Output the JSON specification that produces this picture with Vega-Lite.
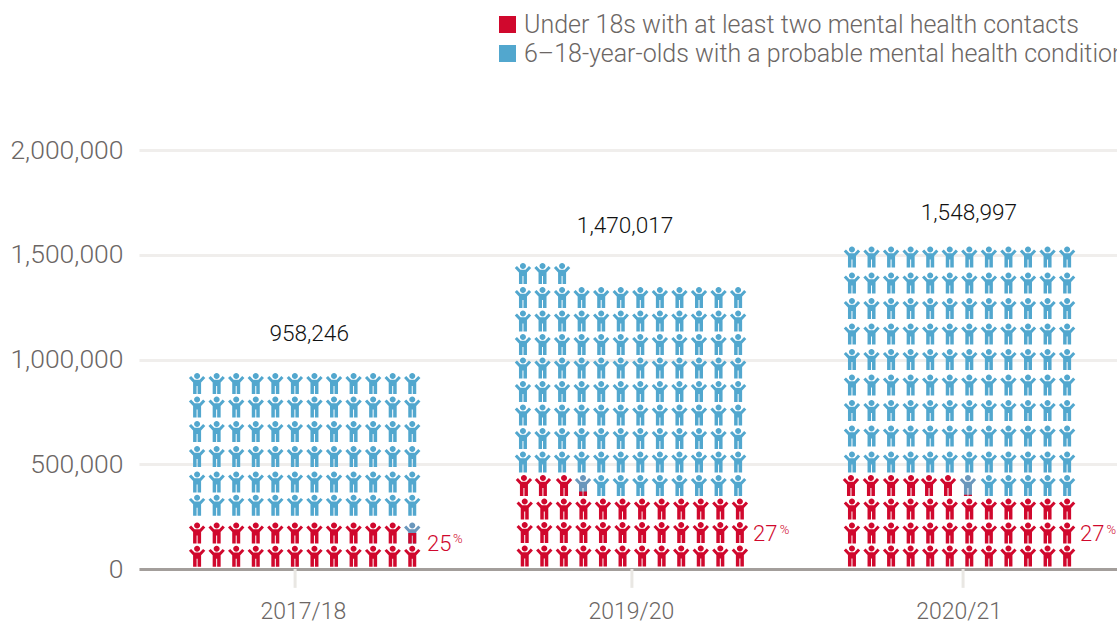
{"$schema":"https://vega.github.io/schema/vega-lite/v6.json","width":978,"height":419,"autosize":{"type":"none"},"padding":{"left":139,"top":150,"right":0,"bottom":53},"background":"white","config":{"view":{"stroke":null},"font":"Roboto"},
"datasets":{"icons":[
{"s":"A","x":2.97,"y":60600},{"s":"A","x":3.97,"y":60600},{"s":"A","x":4.97,"y":60600},{"s":"A","x":5.97,"y":60600},{"s":"A","x":6.97,"y":60600},{"s":"A","x":7.97,"y":60600},{"s":"A","x":8.97,"y":60600},{"s":"A","x":9.97,"y":60600},{"s":"A","x":10.97,"y":60600},{"s":"A","x":11.97,"y":60600},{"s":"A","x":12.97,"y":60600},{"s":"A","x":13.97,"y":60600},
{"s":"A","x":2.97,"y":171800},{"s":"A","x":3.97,"y":171800},{"s":"A","x":4.97,"y":171800},{"s":"A","x":5.97,"y":171800},{"s":"A","x":6.97,"y":171800},{"s":"A","x":7.97,"y":171800},{"s":"A","x":8.97,"y":171800},{"s":"A","x":9.97,"y":171800},{"s":"A","x":10.97,"y":171800},{"s":"A","x":11.97,"y":171800},{"s":"A","x":12.97,"y":171800},{"s":"C","x":13.97,"y":171800},
{"s":"B","x":2.97,"y":304100},{"s":"B","x":3.97,"y":304100},{"s":"B","x":4.97,"y":304100},{"s":"B","x":5.97,"y":304100},{"s":"B","x":6.97,"y":304100},{"s":"B","x":7.97,"y":304100},{"s":"B","x":8.97,"y":304100},{"s":"B","x":9.97,"y":304100},{"s":"B","x":10.97,"y":304100},{"s":"B","x":11.97,"y":304100},{"s":"B","x":12.97,"y":304100},{"s":"B","x":13.97,"y":304100},
{"s":"B","x":2.97,"y":415300},{"s":"B","x":3.97,"y":415300},{"s":"B","x":4.97,"y":415300},{"s":"B","x":5.97,"y":415300},{"s":"B","x":6.97,"y":415300},{"s":"B","x":7.97,"y":415300},{"s":"B","x":8.97,"y":415300},{"s":"B","x":9.97,"y":415300},{"s":"B","x":10.97,"y":415300},{"s":"B","x":11.97,"y":415300},{"s":"B","x":12.97,"y":415300},{"s":"B","x":13.97,"y":415300},
{"s":"B","x":2.97,"y":537000},{"s":"B","x":3.97,"y":537000},{"s":"B","x":4.97,"y":537000},{"s":"B","x":5.97,"y":537000},{"s":"B","x":6.97,"y":537000},{"s":"B","x":7.97,"y":537000},{"s":"B","x":8.97,"y":537000},{"s":"B","x":9.97,"y":537000},{"s":"B","x":10.97,"y":537000},{"s":"B","x":11.97,"y":537000},{"s":"B","x":12.97,"y":537000},{"s":"B","x":13.97,"y":537000},
{"s":"B","x":2.97,"y":656300},{"s":"B","x":3.97,"y":656300},{"s":"B","x":4.97,"y":656300},{"s":"B","x":5.97,"y":656300},{"s":"B","x":6.97,"y":656300},{"s":"B","x":7.97,"y":656300},{"s":"B","x":8.97,"y":656300},{"s":"B","x":9.97,"y":656300},{"s":"B","x":10.97,"y":656300},{"s":"B","x":11.97,"y":656300},{"s":"B","x":12.97,"y":656300},{"s":"B","x":13.97,"y":656300},
{"s":"B","x":2.97,"y":773300},{"s":"B","x":3.97,"y":773300},{"s":"B","x":4.97,"y":773300},{"s":"B","x":5.97,"y":773300},{"s":"B","x":6.97,"y":773300},{"s":"B","x":7.97,"y":773300},{"s":"B","x":8.97,"y":773300},{"s":"B","x":9.97,"y":773300},{"s":"B","x":10.97,"y":773300},{"s":"B","x":11.97,"y":773300},{"s":"B","x":12.97,"y":773300},{"s":"B","x":13.97,"y":773300},
{"s":"B","x":2.97,"y":885400},{"s":"B","x":3.97,"y":885400},{"s":"B","x":4.97,"y":885400},{"s":"B","x":5.97,"y":885400},{"s":"B","x":6.97,"y":885400},{"s":"B","x":7.97,"y":885400},{"s":"B","x":8.97,"y":885400},{"s":"B","x":9.97,"y":885400},{"s":"B","x":10.97,"y":885400},{"s":"B","x":11.97,"y":885400},{"s":"B","x":12.97,"y":885400},{"s":"B","x":13.97,"y":885400},

{"s":"A","x":19.72,"y":62100},{"s":"A","x":20.72,"y":62100},{"s":"A","x":21.72,"y":62100},{"s":"A","x":22.72,"y":62100},{"s":"A","x":23.72,"y":62100},{"s":"A","x":24.72,"y":62100},{"s":"A","x":25.72,"y":62100},{"s":"A","x":26.72,"y":62100},{"s":"A","x":27.72,"y":62100},{"s":"A","x":28.72,"y":62100},{"s":"A","x":29.72,"y":62100},{"s":"A","x":30.72,"y":62100},
{"s":"A","x":19.72,"y":174200},{"s":"A","x":20.72,"y":174200},{"s":"A","x":21.72,"y":174200},{"s":"A","x":22.72,"y":174200},{"s":"A","x":23.72,"y":174200},{"s":"A","x":24.72,"y":174200},{"s":"A","x":25.72,"y":174200},{"s":"A","x":26.72,"y":174200},{"s":"A","x":27.72,"y":174200},{"s":"A","x":28.72,"y":174200},{"s":"A","x":29.72,"y":174200},{"s":"A","x":30.72,"y":174200},
{"s":"A","x":19.72,"y":286400},{"s":"A","x":20.72,"y":286400},{"s":"A","x":21.72,"y":286400},{"s":"A","x":22.72,"y":286400},{"s":"A","x":23.72,"y":286400},{"s":"A","x":24.72,"y":286400},{"s":"A","x":25.72,"y":286400},{"s":"A","x":26.72,"y":286400},{"s":"A","x":27.72,"y":286400},{"s":"A","x":28.72,"y":286400},{"s":"A","x":29.72,"y":286400},{"s":"A","x":30.72,"y":286400},
{"s":"A","x":19.68,"y":398600},{"s":"A","x":20.65,"y":398600},{"s":"A","x":21.73,"y":398600},{"s":"C","x":22.7,"y":398600},{"s":"B","x":23.63,"y":398600},{"s":"B","x":24.63,"y":398600},{"s":"B","x":25.63,"y":398600},{"s":"B","x":26.63,"y":398600},{"s":"B","x":27.63,"y":398600},{"s":"B","x":28.63,"y":398600},{"s":"B","x":29.63,"y":398600},{"s":"B","x":30.63,"y":398600},
{"s":"B","x":19.63,"y":510700},{"s":"B","x":20.63,"y":510700},{"s":"B","x":21.63,"y":510700},{"s":"B","x":22.63,"y":510700},{"s":"B","x":23.63,"y":510700},{"s":"B","x":24.63,"y":510700},{"s":"B","x":25.63,"y":510700},{"s":"B","x":26.63,"y":510700},{"s":"B","x":27.63,"y":510700},{"s":"B","x":28.63,"y":510700},{"s":"B","x":29.63,"y":510700},{"s":"B","x":30.63,"y":510700},
{"s":"B","x":19.63,"y":622900},{"s":"B","x":20.63,"y":622900},{"s":"B","x":21.63,"y":622900},{"s":"B","x":22.63,"y":622900},{"s":"B","x":23.63,"y":622900},{"s":"B","x":24.63,"y":622900},{"s":"B","x":25.63,"y":622900},{"s":"B","x":26.63,"y":622900},{"s":"B","x":27.63,"y":622900},{"s":"B","x":28.63,"y":622900},{"s":"B","x":29.63,"y":622900},{"s":"B","x":30.63,"y":622900},
{"s":"B","x":19.63,"y":735100},{"s":"B","x":20.63,"y":735100},{"s":"B","x":21.63,"y":735100},{"s":"B","x":22.63,"y":735100},{"s":"B","x":23.63,"y":735100},{"s":"B","x":24.63,"y":735100},{"s":"B","x":25.63,"y":735100},{"s":"B","x":26.63,"y":735100},{"s":"B","x":27.63,"y":735100},{"s":"B","x":28.63,"y":735100},{"s":"B","x":29.63,"y":735100},{"s":"B","x":30.63,"y":735100},
{"s":"B","x":19.63,"y":847300},{"s":"B","x":20.63,"y":847300},{"s":"B","x":21.63,"y":847300},{"s":"B","x":22.63,"y":847300},{"s":"B","x":23.63,"y":847300},{"s":"B","x":24.63,"y":847300},{"s":"B","x":25.63,"y":847300},{"s":"B","x":26.63,"y":847300},{"s":"B","x":27.63,"y":847300},{"s":"B","x":28.63,"y":847300},{"s":"B","x":29.63,"y":847300},{"s":"B","x":30.63,"y":847300},
{"s":"B","x":19.63,"y":959400},{"s":"B","x":20.63,"y":959400},{"s":"B","x":21.63,"y":959400},{"s":"B","x":22.63,"y":959400},{"s":"B","x":23.63,"y":959400},{"s":"B","x":24.63,"y":959400},{"s":"B","x":25.63,"y":959400},{"s":"B","x":26.63,"y":959400},{"s":"B","x":27.63,"y":959400},{"s":"B","x":28.63,"y":959400},{"s":"B","x":29.63,"y":959400},{"s":"B","x":30.63,"y":959400},
{"s":"B","x":19.63,"y":1071600},{"s":"B","x":20.63,"y":1071600},{"s":"B","x":21.63,"y":1071600},{"s":"B","x":22.63,"y":1071600},{"s":"B","x":23.63,"y":1071600},{"s":"B","x":24.63,"y":1071600},{"s":"B","x":25.63,"y":1071600},{"s":"B","x":26.63,"y":1071600},{"s":"B","x":27.63,"y":1071600},{"s":"B","x":28.63,"y":1071600},{"s":"B","x":29.63,"y":1071600},{"s":"B","x":30.63,"y":1071600},
{"s":"B","x":19.63,"y":1183800},{"s":"B","x":20.63,"y":1183800},{"s":"B","x":21.63,"y":1183800},{"s":"B","x":22.63,"y":1183800},{"s":"B","x":23.63,"y":1183800},{"s":"B","x":24.63,"y":1183800},{"s":"B","x":25.63,"y":1183800},{"s":"B","x":26.63,"y":1183800},{"s":"B","x":27.63,"y":1183800},{"s":"B","x":28.63,"y":1183800},{"s":"B","x":29.63,"y":1183800},{"s":"B","x":30.63,"y":1183800},
{"s":"B","x":19.63,"y":1296000},{"s":"B","x":20.63,"y":1296000},{"s":"B","x":21.63,"y":1296000},{"s":"B","x":22.63,"y":1296000},{"s":"B","x":23.63,"y":1296000},{"s":"B","x":24.63,"y":1296000},{"s":"B","x":25.63,"y":1296000},{"s":"B","x":26.63,"y":1296000},{"s":"B","x":27.63,"y":1296000},{"s":"B","x":28.63,"y":1296000},{"s":"B","x":29.63,"y":1296000},{"s":"B","x":30.63,"y":1296000},
{"s":"B","x":19.63,"y":1410500},{"s":"B","x":20.63,"y":1410500},{"s":"B","x":21.63,"y":1410500},

{"s":"A","x":36.45,"y":62100},{"s":"A","x":37.45,"y":62100},{"s":"A","x":38.45,"y":62100},{"s":"A","x":39.45,"y":62100},{"s":"A","x":40.45,"y":62100},{"s":"A","x":41.45,"y":62100},{"s":"A","x":42.45,"y":62100},{"s":"A","x":43.45,"y":62100},{"s":"A","x":44.45,"y":62100},{"s":"A","x":45.45,"y":62100},{"s":"A","x":46.45,"y":62100},{"s":"A","x":47.45,"y":62100},
{"s":"A","x":36.45,"y":171800},{"s":"A","x":37.45,"y":171800},{"s":"A","x":38.45,"y":171800},{"s":"A","x":39.45,"y":171800},{"s":"A","x":40.45,"y":171800},{"s":"A","x":41.45,"y":171800},{"s":"A","x":42.45,"y":171800},{"s":"A","x":43.45,"y":171800},{"s":"A","x":44.45,"y":171800},{"s":"A","x":45.45,"y":171800},{"s":"A","x":46.45,"y":171800},{"s":"A","x":47.45,"y":171800},
{"s":"A","x":36.45,"y":286400},{"s":"A","x":37.45,"y":286400},{"s":"A","x":38.45,"y":286400},{"s":"A","x":39.45,"y":286400},{"s":"A","x":40.45,"y":286400},{"s":"A","x":41.45,"y":286400},{"s":"A","x":42.45,"y":286400},{"s":"A","x":43.45,"y":286400},{"s":"A","x":44.45,"y":286400},{"s":"A","x":45.45,"y":286400},{"s":"A","x":46.45,"y":286400},{"s":"A","x":47.45,"y":286400},
{"s":"A","x":36.4,"y":398600},{"s":"A","x":37.42,"y":398600},{"s":"A","x":38.45,"y":398600},{"s":"A","x":39.47,"y":398600},{"s":"A","x":40.39,"y":398600},{"s":"A","x":41.36,"y":398600},{"s":"C","x":42.38,"y":398600},{"s":"B","x":43.45,"y":398600},{"s":"B","x":44.45,"y":398600},{"s":"B","x":45.45,"y":398600},{"s":"B","x":46.45,"y":398600},{"s":"B","x":47.45,"y":398600},
{"s":"B","x":36.45,"y":510700},{"s":"B","x":37.45,"y":510700},{"s":"B","x":38.45,"y":510700},{"s":"B","x":39.45,"y":510700},{"s":"B","x":40.45,"y":510700},{"s":"B","x":41.45,"y":510700},{"s":"B","x":42.45,"y":510700},{"s":"B","x":43.45,"y":510700},{"s":"B","x":44.45,"y":510700},{"s":"B","x":45.45,"y":510700},{"s":"B","x":46.45,"y":510700},{"s":"B","x":47.45,"y":510700},
{"s":"B","x":36.45,"y":634900},{"s":"B","x":37.45,"y":634900},{"s":"B","x":38.45,"y":634900},{"s":"B","x":39.45,"y":634900},{"s":"B","x":40.45,"y":634900},{"s":"B","x":41.45,"y":634900},{"s":"B","x":42.45,"y":634900},{"s":"B","x":43.45,"y":634900},{"s":"B","x":44.45,"y":634900},{"s":"B","x":45.45,"y":634900},{"s":"B","x":46.45,"y":634900},{"s":"B","x":47.45,"y":634900},
{"s":"B","x":36.45,"y":756600},{"s":"B","x":37.45,"y":756600},{"s":"B","x":38.45,"y":756600},{"s":"B","x":39.45,"y":756600},{"s":"B","x":40.45,"y":756600},{"s":"B","x":41.45,"y":756600},{"s":"B","x":42.45,"y":756600},{"s":"B","x":43.45,"y":756600},{"s":"B","x":44.45,"y":756600},{"s":"B","x":45.45,"y":756600},{"s":"B","x":46.45,"y":756600},{"s":"B","x":47.45,"y":756600},
{"s":"B","x":36.45,"y":878300},{"s":"B","x":37.45,"y":878300},{"s":"B","x":38.45,"y":878300},{"s":"B","x":39.45,"y":878300},{"s":"B","x":40.45,"y":878300},{"s":"B","x":41.45,"y":878300},{"s":"B","x":42.45,"y":878300},{"s":"B","x":43.45,"y":878300},{"s":"B","x":44.45,"y":878300},{"s":"B","x":45.45,"y":878300},{"s":"B","x":46.45,"y":878300},{"s":"B","x":47.45,"y":878300},
{"s":"B","x":36.45,"y":1000000},{"s":"B","x":37.45,"y":1000000},{"s":"B","x":38.45,"y":1000000},{"s":"B","x":39.45,"y":1000000},{"s":"B","x":40.45,"y":1000000},{"s":"B","x":41.45,"y":1000000},{"s":"B","x":42.45,"y":1000000},{"s":"B","x":43.45,"y":1000000},{"s":"B","x":44.45,"y":1000000},{"s":"B","x":45.45,"y":1000000},{"s":"B","x":46.45,"y":1000000},{"s":"B","x":47.45,"y":1000000},
{"s":"B","x":36.45,"y":1121700},{"s":"B","x":37.45,"y":1121700},{"s":"B","x":38.45,"y":1121700},{"s":"B","x":39.45,"y":1121700},{"s":"B","x":40.45,"y":1121700},{"s":"B","x":41.45,"y":1121700},{"s":"B","x":42.45,"y":1121700},{"s":"B","x":43.45,"y":1121700},{"s":"B","x":44.45,"y":1121700},{"s":"B","x":45.45,"y":1121700},{"s":"B","x":46.45,"y":1121700},{"s":"B","x":47.45,"y":1121700},
{"s":"B","x":36.45,"y":1243500},{"s":"B","x":37.45,"y":1243500},{"s":"B","x":38.45,"y":1243500},{"s":"B","x":39.45,"y":1243500},{"s":"B","x":40.45,"y":1243500},{"s":"B","x":41.45,"y":1243500},{"s":"B","x":42.45,"y":1243500},{"s":"B","x":43.45,"y":1243500},{"s":"B","x":44.45,"y":1243500},{"s":"B","x":45.45,"y":1243500},{"s":"B","x":46.45,"y":1243500},{"s":"B","x":47.45,"y":1243500},
{"s":"B","x":36.45,"y":1365200},{"s":"B","x":37.45,"y":1365200},{"s":"B","x":38.45,"y":1365200},{"s":"B","x":39.45,"y":1365200},{"s":"B","x":40.45,"y":1365200},{"s":"B","x":41.45,"y":1365200},{"s":"B","x":42.45,"y":1365200},{"s":"B","x":43.45,"y":1365200},{"s":"B","x":44.45,"y":1365200},{"s":"B","x":45.45,"y":1365200},{"s":"B","x":46.45,"y":1365200},{"s":"B","x":47.45,"y":1365200},
{"s":"B","x":36.45,"y":1489300},{"s":"B","x":37.45,"y":1489300},{"s":"B","x":38.45,"y":1489300},{"s":"B","x":39.45,"y":1489300},{"s":"B","x":40.45,"y":1489300},{"s":"B","x":41.45,"y":1489300},{"s":"B","x":42.45,"y":1489300},{"s":"B","x":43.45,"y":1489300},{"s":"B","x":44.45,"y":1489300},{"s":"B","x":45.45,"y":1489300},{"s":"B","x":46.45,"y":1489300},{"s":"B","x":47.45,"y":1489300}
],
"ticks":[{"x":7.98,"y":0,"y2":-90000},{"x":25.2,"y":0,"y2":-90000},{"x":42.13,"y":0,"y2":-90000}],
"partials":[{"s":"A","x":13.97,"y":171800,"part":"half"},{"s":"A","x":22.7,"y":398600,"part":"legs"},{"s":"A","x":42.38,"y":398600,"part":"feet"}],
"totals":[{"label":"958,246","x":8.7,"y":1121700},{"label":"1,470,017","x":24.85,"y":1637200},{"label":"1,548,997","x":42.43,"y":1699300}],
"shares":[{"label":"25","x":14.72,"y":119300},{"label":"27","x":31.39,"y":167000},{"label":"27","x":48.11,"y":167000}],
"pct":[{"label":"%","x":16.05,"y":143200},{"label":"%","x":32.76,"y":186200},{"label":"%","x":49.46,"y":186200}]},
"encoding":{"x":{"field":"x","type":"quantitative","scale":{"domain":[0,50]},"axis":{"title":null,"values":[8.38,25.15,41.9],"grid":false,"domainColor":"#a39e9b","domainWidth":3,"tickColor":"transparent","tickSize":19,"labelFontSize":23,"labelColor":"#6b6664","labelFontWeight":300,"labelPadding":12,"labelBaseline":"top","labelExpr":"datum.value<10?'2017/18':(datum.value<30?'2019/20':'2020/21')"}},
"y":{"field":"y","type":"quantitative","scale":{"domain":[0,2000000],"nice":false},"axis":{"title":null,"values":[0,500000,1000000,1500000,2000000],"labelExpr":"format(datum.value,',')","domain":false,"ticks":false,"grid":true,"gridColor":"#f0eeec","gridWidth":3,"labelFontSize":26.5,"labelColor":"#6b6664","labelFontWeight":300,"labelPadding":16}}},
"layer":[
{"data":{"name":"ticks"},"mark":{"type":"rule","color":"#e9e7e3","strokeWidth":3},"encoding":{"y2":{"field":"y2"}}},
{"data":{"name":"icons"},"mark":{"type":"point","filled":true,"opacity":1,"size":4,"strokeWidth":0,"shape":"M0,-10.5A3,3,0,1,1,0,-4.5A3,3,0,1,1,0,-10.5ZM-2.5,-3.8L2.5,-3.8L6,-7.4L8.2,-5.6L4,-1L4,10.5L0.5,10.5L0.5,2.5L-0.5,2.5L-0.5,10.5L-4,10.5L-4,-1L-8.2,-5.6L-6,-7.4Z"},
"encoding":{
"color":{"field":"s","type":"nominal","scale":{"domain":["A","B","C"],"range":["#d0082d","#52a7ce","#6a97bc"]},"legend":{"orient":"none","legendX":356,"legendY":-138,"title":null,"values":["A","B"],"labelExpr":"datum.value=='A'?'Under 18s with at least two mental health contacts':'6–18-year-olds with a probable mental health condition'","symbolType":"square","symbolSize":289,"symbolStrokeWidth":0,"labelFontSize":25,"labelFontWeight":300,"labelColor":"#6b6664","labelLimit":1000,"rowPadding":3,"labelOffset":4,"padding":0}}}},
{"data":{"name":"partials"},"mark":{"type":"point","filled":true,"opacity":1,"size":4,"strokeWidth":0},
"encoding":{"color":{"field":"s","type":"nominal"},
"shape":{"field":"part","type":"nominal","legend":null,"scale":{"domain":["half","legs","feet"],"range":["M-4,0L4,0L4,10.5L0.5,10.5L0.5,2.5L-0.5,2.5L-0.5,10.5L-4,10.5Z","M-4,6L-0.5,6L-0.5,10.5L-4,10.5ZM0.5,6L4,6L4,10.5L0.5,10.5Z","M-4,9.3L-0.5,9.3L-0.5,10.5L-4,10.5ZM0.5,9.3L4,9.3L4,10.5L0.5,10.5Z"]}}}},
{"data":{"name":"totals"},"mark":{"type":"text","align":"center","baseline":"middle","fontSize":22.6,"fontWeight":300,"color":"#111111"},"encoding":{"text":{"field":"label"}}},
{"data":{"name":"shares"},"mark":{"type":"text","align":"left","baseline":"middle","fontSize":22,"fontWeight":300,"color":"#d0082d"},"encoding":{"text":{"field":"label"}}},
{"data":{"name":"pct"},"mark":{"type":"text","align":"left","baseline":"middle","fontSize":13,"fontWeight":300,"color":"#d0082d"},"encoding":{"text":{"field":"label"}}}
]}
